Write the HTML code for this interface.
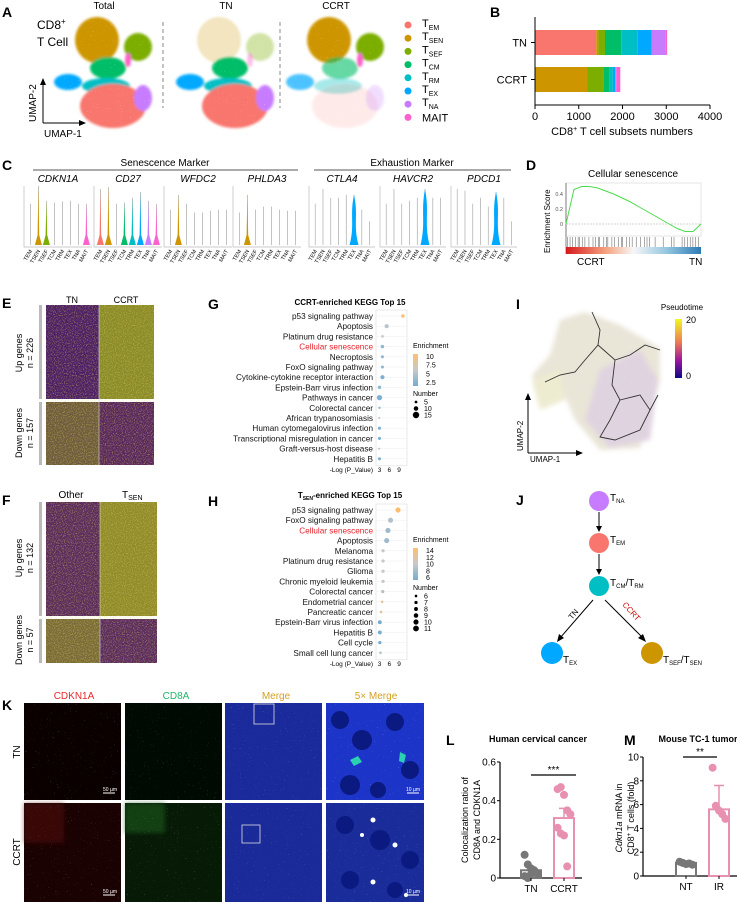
<!DOCTYPE html>
<html><head><meta charset="utf-8"><style>
html,body{margin:0;padding:0;background:#fff;}
svg{display:block;font-family:"Liberation Sans",sans-serif;}
</style></head><body>
<svg id="fig" width="737" height="902" viewBox="0 0 737 902" xmlns="http://www.w3.org/2000/svg">
<defs>
<filter id="blur2"><feGaussianBlur stdDeviation="2.5"/></filter>
<filter id="blur1"><feGaussianBlur stdDeviation="1.3"/></filter>
<filter id="noise" x="0" y="0" width="100%" height="100%"><feTurbulence type="fractalNoise" baseFrequency="0.9" numOctaves="1" seed="3"/><feColorMatrix type="matrix" values="0 0 0 0 0.75  0 0 0 0 0.72  0 0 0 0 0.1  0 0 0 1.6 -0.75"/><feComposite in2="SourceGraphic" operator="in"/></filter>
<filter id="dots" x="0" y="0" width="100%" height="100%"><feTurbulence type="fractalNoise" baseFrequency="0.7" numOctaves="1" seed="7"/><feColorMatrix type="matrix" values="0 0 0 0 1  0 0 0 0 1  0 0 0 0 1  0 0 0 6 -4.2"/><feComposite in2="SourceGraphic" operator="in"/></filter>
<linearGradient id="gseaBar" x1="0" x2="1"><stop offset="0" stop-color="#d7191c"/><stop offset="0.3" stop-color="#f4a582"/><stop offset="0.5" stop-color="#f7f7f7"/><stop offset="0.75" stop-color="#92c5de"/><stop offset="1" stop-color="#2c7bb6"/></linearGradient>
<linearGradient id="enrG" x1="0" y1="0" x2="0" y2="1"><stop offset="0" stop-color="#fdbf6f"/><stop offset="0.5" stop-color="#c8c8c8"/><stop offset="1" stop-color="#74add1"/></linearGradient>
<linearGradient id="pseudo" x1="0" y1="0" x2="0" y2="1"><stop offset="0" stop-color="#f0f921"/><stop offset="0.4" stop-color="#ed7953"/><stop offset="0.7" stop-color="#9c179e"/><stop offset="1" stop-color="#0d0887"/></linearGradient>
</defs>

<!-- Panel A -->
<g font-size="11">
<text x="2" y="17" font-size="14" font-weight="bold">A</text>
<text x="104" y="9" text-anchor="middle" font-size="10">Total</text>
<text x="226" y="9" text-anchor="middle" font-size="10">TN</text>
<text x="336" y="9" text-anchor="middle" font-size="10">CCRT</text>
<g id="umaps"></g>
<text x="37" y="29" font-size="12">CD8<tspan font-size="8" dy="-5">+</tspan></text>
<text x="37" y="46" font-size="12">T Cell</text>
<line x1="163" y1="22" x2="163" y2="108" stroke="#888" stroke-dasharray="4,3"/>
<line x1="280" y1="22" x2="280" y2="108" stroke="#888" stroke-dasharray="4,3"/>
<line x1="43" y1="123" x2="43" y2="82" stroke="#000"/>
<polygon points="43,78 40,85 46,85"/>
<line x1="43" y1="123" x2="82" y2="123" stroke="#000"/>
<polygon points="86,123 79,120 79,126"/>
<text x="36" y="122" font-size="10" transform="rotate(-90 36 122)">UMAP-2</text>
<text x="44" y="137" font-size="10">UMAP-1</text>
<g id="legendA"></g>
</g>

<!-- Panel B -->
<g id="panelB">
<text x="490" y="17" font-size="14" font-weight="bold">B</text>
</g>

<!-- Panel C -->
<g id="panelC">
<text x="2" y="170" font-size="14" font-weight="bold">C</text>
<text x="165" y="166" text-anchor="middle" font-size="10">Senescence Marker</text>
<line x1="33" y1="170" x2="298" y2="170" stroke="#555"/>
<text x="412" y="166" text-anchor="middle" font-size="10">Exhaustion Marker</text>
<line x1="314" y1="170" x2="511" y2="170" stroke="#555"/>
</g>

<!-- Panel D -->
<g id="panelD">
<text x="526" y="170" font-size="14" font-weight="bold">D</text>
<text x="633" y="177" text-anchor="middle" font-size="10">Cellular senescence</text>
<text x="550" y="253" font-size="8" transform="rotate(-90 550 253)">Enrichment Score</text>
<text x="577" y="265" font-size="10">CCRT</text>
<text x="689" y="265" font-size="10">TN</text>
</g>

<!-- Panel E / F heatmaps -->
<g>
<text x="2" y="308" font-size="14" font-weight="bold">E</text>
<text x="72" y="303" text-anchor="middle" font-size="9">TN</text>
<text x="126" y="303" text-anchor="middle" font-size="9">CCRT</text>
<rect x="46" y="305" width="53" height="94" fill="#4b1d66"/>
<rect x="99" y="305" width="55" height="94" fill="#8a8a2a"/>
<rect x="46" y="402" width="53" height="63" fill="#6e5a3e"/>
<rect x="99" y="402" width="55" height="63" fill="#58265f"/>
<rect x="46" y="305" width="108" height="160" fill="#fff" filter="url(#noise)"/>
<line x1="99" y1="305" x2="99" y2="465" stroke="#ddd" stroke-width="0.6"/>
<rect x="39" y="305" width="3" height="94" fill="#bbb"/>
<rect x="39" y="402" width="3" height="63" fill="#bbb"/>
<text x="22" y="353" font-size="9" text-anchor="middle" transform="rotate(-90 22 353)">Up genes</text>
<text x="33" y="353" font-size="9" text-anchor="middle" transform="rotate(-90 33 353)">n = 226</text>
<text x="22" y="433" font-size="9" text-anchor="middle" transform="rotate(-90 22 433)">Down genes</text>
<text x="33" y="433" font-size="9" text-anchor="middle" transform="rotate(-90 33 433)">n = 157</text>
</g>
<g>
<text x="2" y="505" font-size="14" font-weight="bold">F</text>
<text x="71" y="498" text-anchor="middle" font-size="10">Other</text>
<text x="122" y="498" font-size="10">T<tspan font-size="7" dy="2">SEN</tspan></text>
<rect x="46" y="502" width="54" height="114" fill="#5a2a5e"/>
<rect x="100" y="502" width="57" height="114" fill="#908a2c"/>
<rect x="46" y="619" width="54" height="44" fill="#7a6a3a"/>
<rect x="100" y="619" width="57" height="44" fill="#5a2a60"/>
<rect x="46" y="502" width="111" height="161" fill="#fff" filter="url(#noise)"/>
<line x1="100" y1="502" x2="100" y2="663" stroke="#ddd" stroke-width="0.6"/>
<rect x="39" y="502" width="3" height="114" fill="#bbb"/>
<rect x="39" y="619" width="3" height="44" fill="#bbb"/>
<text x="22" y="558" font-size="9" text-anchor="middle" transform="rotate(-90 22 558)">Up genes</text>
<text x="33" y="558" font-size="9" text-anchor="middle" transform="rotate(-90 33 558)">n = 132</text>
<text x="22" y="640" font-size="9" text-anchor="middle" transform="rotate(-90 22 640)">Down genes</text>
<text x="33" y="640" font-size="9" text-anchor="middle" transform="rotate(-90 33 640)">n = 57</text>
</g>

<!-- G / H -->
<g id="panelG">
<text x="208" y="309" font-size="14" font-weight="bold">G</text>
<text x="350" y="305" text-anchor="middle" font-size="8" font-weight="bold">CCRT-enriched KEGG Top 15</text>
</g>
<g id="panelH">
<text x="208" y="506" font-size="14" font-weight="bold">H</text>
<text x="350" y="498" text-anchor="middle" font-size="8" font-weight="bold">T<tspan font-size="5" dy="2">SEN</tspan><tspan dy="-2">-enriched KEGG Top 15</tspan></text>
</g>

<!-- I -->
<g id="panelI">
<text x="516" y="309" font-size="14" font-weight="bold">I</text>
<text x="682" y="310" text-anchor="middle" font-size="8">Pseudotime</text>
<rect x="675" y="319" width="7" height="59" fill="url(#pseudo)"/>
<text x="686" y="323" font-size="9">20</text>
<text x="686" y="379" font-size="9">0</text>
<g filter="url(#blur2)" opacity="0.55">
<path d="M585,312 L620,325 L660,348 L660,380 L652,410 L640,448 L600,450 L575,420 L560,385 L540,405 L532,375 L550,355 L560,320 Z" fill="#d8d0b8"/>
<path d="M600,370 L640,350 L658,380 L650,440 L610,448 L585,420 Z" fill="#c8b0c8"/>
<path d="M532,380 L560,370 L565,400 L540,410 Z" fill="#e0dcaa"/>
</g>
<rect x="530" y="310" width="135" height="142" fill="#fff" filter="url(#dots)" opacity="0.5"/>
<polyline points="592,312 600,330 598,345 585,360 575,372 560,375 545,382" fill="none" stroke="#333" stroke-width="0.9"/>
<polyline points="598,345 615,360 630,355 645,345 660,350" fill="none" stroke="#333" stroke-width="0.9"/>
<polyline points="615,360 612,385 620,400 610,420 600,437 615,440 640,430 650,410 658,395" fill="none" stroke="#333" stroke-width="0.9"/>
<polyline points="620,400 640,395 650,410" fill="none" stroke="#333" stroke-width="0.9"/>
<line x1="528" y1="453" x2="528" y2="397" stroke="#000"/>
<polygon points="528,393 525,400 531,400"/>
<line x1="528" y1="453" x2="579" y2="453" stroke="#000"/>
<polygon points="583,453 576,450 576,456"/>
<text x="523" y="451" font-size="8" transform="rotate(-90 523 451)">UMAP-2</text>
<text x="530" y="462" font-size="8">UMAP-1</text>
</g>

<!-- J -->
<g font-size="10">
<text x="516" y="505" font-size="14" font-weight="bold">J</text>
<circle cx="599" cy="501" r="10" fill="#c77cff"/>
<text x="610" y="501">T<tspan font-size="6" dy="2">NA</tspan></text>
<line x1="599" y1="512" x2="599" y2="528" stroke="#000"/>
<polygon points="599,532 596,526 602,526"/>
<circle cx="599" cy="543" r="10" fill="#f8766d"/>
<text x="610" y="543">T<tspan font-size="6" dy="2">EM</tspan></text>
<line x1="599" y1="554" x2="599" y2="571" stroke="#000"/>
<polygon points="599,575 596,569 602,569"/>
<circle cx="599" cy="586" r="10" fill="#00bfc4"/>
<text x="610" y="586">T<tspan font-size="6" dy="2">CM</tspan><tspan dy="-2">/T</tspan><tspan font-size="6" dy="2">RM</tspan></text>
<line x1="593" y1="600" x2="560" y2="638" stroke="#000"/>
<polygon points="557,642 559,634 564,638"/>
<line x1="605" y1="600" x2="643" y2="638" stroke="#000"/>
<polygon points="646,642 638,638 643,634"/>
<text x="572" y="620" font-size="8" transform="rotate(-50 572 620)">TN</text>
<text x="622" y="605" font-size="8" fill="#c00" transform="rotate(48 622 605)">CCRT</text>
<circle cx="552" cy="653" r="11" fill="#00a9ff"/>
<text x="563" y="663">T<tspan font-size="6" dy="2">EX</tspan></text>
<circle cx="652" cy="653" r="11" fill="#cd9600"/>
<text x="663" y="663">T<tspan font-size="6" dy="2">SEF</tspan><tspan dy="-2">/T</tspan><tspan font-size="6" dy="2">SEN</tspan></text>
</g>

<!-- K -->
<g>
<text x="2" y="710" font-size="14" font-weight="bold">K</text>
<text x="74" y="699" text-anchor="middle" font-size="10" fill="#e8282b">CDKN1A</text>
<text x="176" y="699" text-anchor="middle" font-size="10" fill="#1fb56a">CD8A</text>
<text x="276" y="699" text-anchor="middle" font-size="10" fill="#d4a020">Merge</text>
<text x="376" y="699" text-anchor="middle" font-size="10" fill="#d4a020">5× Merge</text>
<text x="20" y="752" font-size="10" text-anchor="middle" transform="rotate(-90 20 752)">TN</text>
<text x="20" y="852" font-size="10" text-anchor="middle" transform="rotate(-90 20 852)">CCRT</text>
<rect x="24" y="703" width="97" height="97" fill="#0a0000"/>
<rect x="125" y="703" width="97" height="97" fill="#000a02"/>
<rect x="225" y="703" width="97" height="97" fill="#1a2a9a"/>
<rect x="326" y="703" width="98" height="97" fill="#1c34c8"/>
<rect x="24" y="803" width="97" height="99" fill="#1a0202"/>
<rect x="125" y="803" width="97" height="99" fill="#061a06"/>
<rect x="225" y="803" width="97" height="99" fill="#1a2a98"/>
<rect x="326" y="803" width="98" height="99" fill="#1a2c9a"/>
<rect x="24" y="803" width="40" height="40" fill="#5a0a0a" opacity="0.5" filter="url(#blur2)"/>
<rect x="125" y="803" width="40" height="30" fill="#1a5a1a" opacity="0.6" filter="url(#blur2)"/>
<rect x="24" y="703" width="400" height="199" fill="#fff" filter="url(#dots)" opacity="0.35"/>
<g fill="#0a1a80">
<circle cx="340" cy="720" r="9"/><circle cx="362" cy="740" r="10"/><circle cx="395" cy="722" r="9"/><circle cx="410" cy="770" r="9"/><circle cx="350" cy="785" r="10"/><circle cx="378" cy="790" r="8"/>
<circle cx="345" cy="825" r="9"/><circle cx="380" cy="840" r="10"/><circle cx="410" cy="860" r="9"/><circle cx="350" cy="880" r="9"/><circle cx="395" cy="890" r="8"/>
</g>
<g fill="#fff">
<circle cx="373" cy="820" r="2.5"/><circle cx="395" cy="845" r="2.5"/><circle cx="373" cy="882" r="2.5"/><circle cx="362" cy="835" r="2"/><circle cx="406" cy="895" r="2"/>
</g>
<path d="M350,760 l8,-4 l4,6 l-8,4z M400,752 l6,3 l-2,8 l-5,-2z" fill="#2ad0b0"/>
<rect x="254" y="704" width="20" height="20" fill="none" stroke="#ddd" stroke-width="0.8"/>
<rect x="242" y="825" width="18" height="18" fill="none" stroke="#ddd" stroke-width="0.8"/>
<g fill="#fff" font-size="5">
<line x1="103" y1="793" x2="115" y2="793" stroke="#fff"/><text x="103" y="791">50 µm</text>
<line x1="103" y1="895" x2="115" y2="895" stroke="#fff"/><text x="103" y="893">50 µm</text>
<line x1="407" y1="793" x2="419" y2="793" stroke="#fff"/><text x="406" y="791">10 µm</text>
<line x1="407" y1="895" x2="419" y2="895" stroke="#fff"/><text x="406" y="893">10 µm</text>
</g>
</g>

<!-- L / M -->
<g id="panelL">
<text x="446" y="745" font-size="14" font-weight="bold">L</text>
<text x="538" y="742" text-anchor="middle" font-size="9" font-weight="bold">Human cervical cancer</text>
<text x="468" y="820" font-size="9" text-anchor="middle" transform="rotate(-90 468 820)">Colocalization ratio of</text>
<text x="480" y="820" font-size="9" text-anchor="middle" transform="rotate(-90 480 820)">CD8A and CDKN1A</text>
</g>
<g id="panelM">
<text x="624" y="745" font-size="14" font-weight="bold">M</text>
<text x="698" y="742" text-anchor="middle" font-size="9" font-weight="bold">Mouse TC-1 tumor</text>
<text x="622" y="818" font-size="9" text-anchor="middle" transform="rotate(-90 622 818)"><tspan font-style="italic">Cdkn1a</tspan> mRNA in</text>
<text x="634" y="818" font-size="9" text-anchor="middle" transform="rotate(-90 634 818)">CD8<tspan font-size="6" dy="-3">+</tspan><tspan dy="3"> T cells (fold)</tspan></text>
</g>
</svg>

<script>
const NS='http://www.w3.org/2000/svg';
function mk(parent,tag,attrs,txt){const e=document.createElementNS(NS,tag);for(const k in attrs)e.setAttribute(k,attrs[k]);if(txt!==undefined)e.textContent=txt;parent.appendChild(e);return e;}

// ---- cluster data ----
const clusterNames=['EM','SEN','SEF','CM','RM','EX','NA','MAIT'];
const clusterColors=['#f8766d','#cd9600','#7cae00','#00be67','#00bfc4','#00a9ff','#c77cff','#ff61cc'];
// Panel B data
const bGroups=['TN','CCRT'];
const bTN=[1400,50,150,370,380,320,310,40];
const bCCRT=[0,1200,360,140,80,50,30,90];
const bTicks=[0,1000,2000,3000,4000];

// legend A
const lg=document.getElementById('legendA');
clusterNames.forEach((n,i)=>{
  const y=25+i*13.2;
  const c=mk(lg,'circle',{cx:408,cy:y,r:3.5,fill:clusterColors[i]});
  
  
  let t;
  if(n==='MAIT'){t=mk(lg,'text',{x:422,y:y+4,'font-size':11},'MAIT');}
  else{t=mk(lg,'text',{x:422,y:y+2,'font-size':11},'T');const s=mk(t,'tspan',{'font-size':7,dy:3},n);}
  
  
});

// UMAP blobs (decorative): [cluster, cx, cy, rx, ry] in Total-panel coords
const blobs=[[1,97,40,22,23],[2,138,47,14,14],[3,108,68,18,11],[4,106,86,24,8],[5,68,82,14,8],[0,113,106,33,22],[6,143,98,9,13],[7,128,60,3,7]];
const umapOffsets=[0,122,232];
const umapOpacity=[[1,1,1,1,1,1,1,1],[1,0.25,0.35,1,1,1,1,0.4],[0.15,1,1,0.6,0.35,0.7,0.25,1]];
(function(){
  const um=document.getElementById('umaps');
  umapOffsets.forEach((dx,ui)=>{
    const g=mk(um,'g',{filter:'url(#blur1)'});
    
    
    blobs.forEach(b=>{
      const e=mk(g,'ellipse',{cx:b[1]+dx,cy:b[2],rx:b[3],ry:b[4],fill:clusterColors[b[0]],opacity:umapOpacity[ui][b[0]]});
      
      
    });
    const sp=mk(um,'rect',{x:46+dx,y:15,width:112,height:115,fill:'#fff',filter:'url(#dots)',opacity:0.6});
    
    
  });
})();

// Panel B
(function(){
  const g=document.getElementById('panelB');
  const x0=535,x1=710,max=4000;
  const xs=v=>x0+v/max*(x1-x0);
  const rowY={TN:30,CCRT:67},bh=25;
  [bTN,bCCRT].forEach((arr,gi)=>{
    let acc=0;
    arr.forEach((v,i)=>{
      if(v<=0)return;
      const r=mk(g,'rect',{x:xs(acc),y:rowY[bGroups[gi]],width:xs(acc+v)-xs(acc),height:bh,fill:clusterColors[i]});
      
      
      acc+=v;
    });
    const t=mk(g,'text',{x:527,y:rowY[bGroups[gi]]+bh/2+4,'text-anchor':'end','font-size':11},bGroups[gi]);
    
    
    const tk=mk(g,'line',{x1:531,x2:535,y1:rowY[bGroups[gi]]+bh/2,y2:rowY[bGroups[gi]]+bh/2,stroke:'#000'});
    
    
  });
  const ax=mk(g,'path',{d:`M${x0},17 V105 H${x1}`,fill:'none',stroke:'#000'});
  
  
  bTicks.forEach(v=>{
    const l=mk(g,'line',{x1:xs(v),x2:xs(v),y1:105,y2:109,stroke:'#000'});
    
    
    const t=mk(g,'text',{x:xs(v),y:120,'text-anchor':'middle','font-size':11},String(v));
    
    
  });
  const xl=mk(g,'text',{x:622,y:135,'text-anchor':'middle','font-size':11},'');
  
  
  xl.innerHTML='CD8<tspan font-size="7" dy="-4">+</tspan><tspan dy="4"> T cell subsets numbers</tspan>';
})();

// Panel C violins
const genes=['CDKN1A','CD27','WFDC2','PHLDA3','CTLA4','HAVCR2','PDCD1'];
const geneX=[24,94,164,233,309,380,451];
const cLabels=['TEM','TSEN','TSEF','TCM','TRM','TEX','TNA','MAIT'];
const vioHeights=[[0.7,1,0.75,0.72,0.74,0.75,0.7,0.7],[0.95,0.98,0.7,0.72,0.8,0.9,0.75,0.7],[0.6,0.85,0.7,0.55,0.55,0.58,0.6,0.6],[0.55,0.85,0.6,0.65,0.65,0.6,0.58,0.58],[0.7,0.95,0.8,0.8,0.85,0.85,0.6,0.4],[0.7,0.95,0.7,0.75,0.8,0.95,0.8,0.8],[0.95,0.92,0.7,0.8,0.65,0.9,0.8,0.4]];
const vioFilled=[[0,1,1,0,0,0,0,1],[1,1,0,1,1,1,1,1],[0,1,0,0,0,0,0,0],[0,1,0,0,0,0,0,0],[0,0,0,0,0,1,0,0],[0,0,0,0,0,1,0,0],[0,0,0,0,0,1,0,0]];
(function(){
  const g=document.getElementById('panelC');
  const base=245,top=186;
  genes.forEach((gn,gi)=>{
    const x0=geneX[gi],w=(gi<4?68:66);
    const t=mk(g,'text',{x:x0+w/2,y:182,'text-anchor':'middle','font-size':10,'font-style':'italic'},gn);
    
    
    const ax=mk(g,'path',{d:`M${x0},${top} V${base+2} H${x0+w}`,fill:'none',stroke:'#bbb','stroke-width':0.7});
    
    
    const step=w/8.5;
    cLabels.forEach((cl,ci)=>{
      const cx=x0+step*(ci+0.8);
      const h=vioHeights[gi][ci]*(base-top);
      const ln=mk(g,'line',{x1:cx,x2:cx,y1:base,y2:base-h,stroke:'#aaa','stroke-width':0.7});
      
      
      if(vioFilled[gi][ci]){
        const big=(gi>=4)?1:0;
        const hw=big?4.5:3.5;
        const d=big?`M${cx},${base-h} C${cx+hw},${base-h*0.6} ${cx-1},${base-h*0.4} ${cx+hw},${base} L${cx-hw},${base} C${cx+1},${base-h*0.4} ${cx-hw},${base-h*0.6} ${cx},${base-h}Z`
                     :`M${cx},${base-h} L${cx+0.8},${base-10} L${cx+hw},${base} L${cx-hw},${base} L${cx-0.8},${base-10}Z`;
        const vp=mk(g,'path',{d:d,fill:clusterColors[ci]});
        
        
      }
      const lt=mk(g,'text',{x:cx+2,y:base+6,'font-size':5.5,'text-anchor':'end',transform:`rotate(-60 ${cx+2} ${base+6})`},cl);
      
      
    });
  });
})();

// Panel D GSEA
const esValues=[0,0.46,0.5,0.5,0.48,0.44,0.4,0.35,0.3,0.24,0.18,0.12,0.06,0,-0.06,-0.1,-0.1,0];
const esTicks=[0,0.2,0.4];
const hitPositions=[0.01,0.03,0.05,0.07,0.09,0.1,0.12,0.14,0.17,0.2,0.22,0.24,0.25,0.28,0.3,0.31,0.34,0.36,0.39,0.41,0.42,0.45,0.47,0.49,0.52,0.55,0.58,0.6,0.62,0.66,0.72,0.78,0.8,0.86,0.88,0.9,0.92,0.94,0.96,0.98];
(function(){
  const g=document.getElementById('panelD');
  const x0=566,x1=701,y0=224,k=75;
  const ys=v=>y0-v*k;
  const fr=mk(g,'rect',{x:x0,y:183,width:x1-x0,height:53,fill:'none',stroke:'#e5e5e5'});
  
  
  const ax=mk(g,'line',{x1:x0,x2:x0,y1:183,y2:254,stroke:'#333','stroke-width':0.6});
  
  
  esTicks.forEach(v=>{
    const t=mk(g,'text',{x:x0-3,y:ys(v)+2,'text-anchor':'end','font-size':5.5,fill:'#555'},String(v));
    
    
  });
  const zl=mk(g,'line',{x1:x0,x2:x1,y1:ys(0),y2:ys(0),stroke:'#aaa','stroke-dasharray':'2,1','stroke-width':0.5});
  
  
  const pts=esValues.map((v,i)=>`${x0+i/(esValues.length-1)*(x1-x0)},${ys(v)}`).join(' ');
  const pl=mk(g,'polyline',{points:pts,fill:'none',stroke:'#4cdc4c','stroke-width':1});
  
  
  hitPositions.forEach(p=>{
    const l=mk(g,'line',{x1:x0+p*(x1-x0),x2:x0+p*(x1-x0),y1:237,y2:247,stroke:'#555','stroke-width':0.5});
    
    
  });
  const gb=mk(g,'rect',{x:x0,y:247,width:x1-x0,height:7,fill:'url(#gseaBar)'});
  
  
})();

// KEGG G/H
const gTerms=['p53 signaling pathway','Apoptosis','Platinum drug resistance','Cellular senescence','Necroptosis','FoxO signaling pathway','Cytokine-cytokine receptor interaction','Epstein-Barr virus infection','Pathways in cancer','Colorectal cancer','African trypanosomiasis','Human cytomegalovirus infection','Transcriptional misregulation in cancer','Graft-versus-host disease','Hepatitis B'];
const gLogP=[10.2,5.2,3.9,3.9,3.9,3.9,3.9,3.0,3.0,3.0,2.9,3.0,3.0,2.9,3.0];
const gEnrich=[11,6,7,4,4,4,3,4,3,4,6,3,3,6,3];
const gNumber=[7,9,5,7,6,6,9,7,12,4,3,6,6,3,6];
const hTerms=['p53 signaling pathway','FoxO signaling pathway','Cellular senescence','Apoptosis','Melanoma','Platinum drug resistance','Glioma','Chronic myeloid leukemia','Colorectal cancer','Endometrial cancer','Pancreatic cancer','Epstein-Barr virus infection','Hepatitis B','Cell cycle','Small cell lung cancer'];
const hLogP=[8.7,6.4,5.6,5.2,4.1,4.1,4.1,4.1,4.0,3.8,3.5,3.1,3.1,3.1,3.3];
const hEnrich=[14,9,8,8,10,10,10,10,9,12,12,6,6,6,9];
const hNumber=[10,10,10,10,7,7,7,7,7,6,6,8,8,7,6];
const kTicks=[3,6,9];
function enrColor(v,lo,hi){const t=Math.max(0,Math.min(1,(v-lo)/(hi-lo)));
  const a=[116,173,209],m=[200,200,200],b=[253,191,111];
  const c=t<0.5?a.map((x,i)=>x+(m[i]-x)*t*2):m.map((x,i)=>x+(b[i]-x)*(t-0.5)*2);
  return `rgb(${c.map(Math.round).join(',')})`;}
function kegg(id,top,terms,logp,enr,num,eLo,eHi,eLabels,nLabels,nMin,nMax,key){
  const g=document.getElementById(id);
  const bx0=376,bx1=407,step=10.2;
  const xs=v=>379.5+(v-3)*3.25;
  const bottom=top+step*14+7;
  const box=mk(g,'rect',{x:bx0,y:top-6,width:bx1-bx0,height:bottom-top+6,fill:'none',stroke:'#ddd','stroke-width':0.6});
  
  
  terms.forEach((t,i)=>{
    const y=top+i*step;
    const tx=mk(g,'text',{x:373,y:y+3,'text-anchor':'end','font-size':8.2,fill:t==='Cellular senescence'?'#e8202a':'#111'},t);
    
    
    const gl=mk(g,'line',{x1:bx0,x2:bx1,y1:y,y2:y,stroke:'#eee','stroke-width':0.5});
    
    
    const r=1+ (num[i]-nMin)/(nMax-nMin)*2.2;
    const c=mk(g,'circle',{cx:xs(logp[i]),cy:y,r:r,fill:enrColor(enr[i],eLo,eHi)});
    
    
  });
  kTicks.forEach(v=>{
    const t=mk(g,'text',{x:xs(v),y:bottom+6,'text-anchor':'middle','font-size':6.5},String(v));
    
    
  });
  const xl=mk(g,'text',{x:373,y:bottom+6,'text-anchor':'end','font-size':6.5},'-Log (P_Value)');
  
  
  const ly=top+32;
  const et=mk(g,'text',{x:413,y:ly,'font-size':7},'Enrichment');
  
  
  const cb=mk(g,'rect',{x:413,y:ly+6,width:5,height:32,fill:'url(#enrG)'});
  
  
  eLabels.forEach((l,i)=>{
    const t=mk(g,'text',{x:426,y:ly+11+i*32/(eLabels.length-0.5)*0.95,'font-size':7},l);
    
    
  });
  const nt=mk(g,'text',{x:413,y:ly+48,'font-size':7},'Number');
  
  
  nLabels.forEach((l,i)=>{
    const y=ly+54+i*6.5;
    const r=1+(l-nMin)/(nMax-nMin)*2.2;
    const c=mk(g,'circle',{cx:416,cy:y,r:r,fill:'#000'});
    
    
    const t=mk(g,'text',{x:424,y:y+2.5,'font-size':7},String(l));
    
    
  });
}
kegg('panelG',316,gTerms,gLogP,gEnrich,gNumber,2.5,11,['10','7.5','5','2.5'],[5,10,15],3,15,'g');
kegg('panelH',510,hTerms,hLogP,hEnrich,hNumber,6,14,['14','12','10','8','6'],[6,7,8,9,10,11],5,12,'h');

// L & M dot-bar plots
const lGroups=['TN','CCRT'];
const lMeans=[0.04,0.31];
const lErr=[0.015,0.05];
const lTN=[0.12,0.07,0.05,0.03,0.02,0.01,0.0,0.02,0.04];
const lCCRT=[0.46,0.47,0.43,0.35,0.33,0.26,0.23,0.22,0.06];
const lTicks=[0,0.2,0.4,0.6];
const mGroups=['NT','IR'];
const mMeans=[1.1,5.6];
const mErr=[0.1,2.0];
const mNT=[1.2,1.1,1.0,1.05,0.95];
const mIR=[9.1,5.9,5.5,5.2,4.8];
const mTicks=[0,2,4,6,8,10];
function dotbar(id,key,ax,yTop,yBot,max,ticks,tickFmt,groups,cxs,means,errs,pts,sigX1,sigX2,sigY,sigTxt){
  const g=document.getElementById(id);
  const ys=v=>yBot-v/max*(yBot-yTop);
  const cols=['#777','#e890b0'];
  const a=mk(g,'path',{d:`M${ax},${yTop} V${yBot} H${cxs[1]+18}`,fill:'none',stroke:'#000','stroke-width':1.2});
  
  
  ticks.forEach(v=>{
    const l=mk(g,'line',{x1:ax-3,x2:ax,y1:ys(v),y2:ys(v),stroke:'#000'});
    
    
    const t=mk(g,'text',{x:ax-4,y:ys(v)+3.5,'text-anchor':'end','font-size':10},tickFmt(v));
    
    
  });
  groups.forEach((gn,i)=>{
    const cx=cxs[i];
    const b=mk(g,'rect',{x:cx-10,y:ys(means[i]),width:20,height:yBot-ys(means[i]),fill:'none',stroke:cols[i],'stroke-width':2});
    
    
    const e=mk(g,'path',{d:`M${cx},${ys(means[i])} V${ys(means[i]+errs[i])} M${cx-5},${ys(means[i]+errs[i])} H${cx+5}`,stroke:cols[i],'stroke-width':1.5,fill:'none'});
    
    
    pts[i].forEach((v,j)=>{
      const c=mk(g,'circle',{cx:cx+((j%5)-2)*3.2,cy:ys(v),r:4,fill:cols[i]});
      
      
    });
    const tk=mk(g,'line',{x1:cx,x2:cx,y1:yBot,y2:yBot+3,stroke:'#000'});
    
    
    const t=mk(g,'text',{x:cx,y:yBot+14,'text-anchor':'middle','font-size':10},gn);
    
    
  });
  const sl=mk(g,'line',{x1:sigX1,x2:sigX2,y1:sigY,y2:sigY,stroke:'#000','stroke-width':1.2});
  
  
  const st=mk(g,'text',{x:(sigX1+sigX2)/2,y:sigY-2,'text-anchor':'middle','font-size':10},sigTxt);
  
  
}
dotbar('panelL','l',500,762,878,0.6,lTicks,v=>String(v),lGroups,[531,564],lMeans,lErr,[lTN,lCCRT],531,576,775,'***');
dotbar('panelM','m',643,757,876,10,mTicks,v=>String(v),mGroups,[686,719],mMeans,mErr,[mNT,mIR],683,717,757,'**');
</script>
</body></html>
